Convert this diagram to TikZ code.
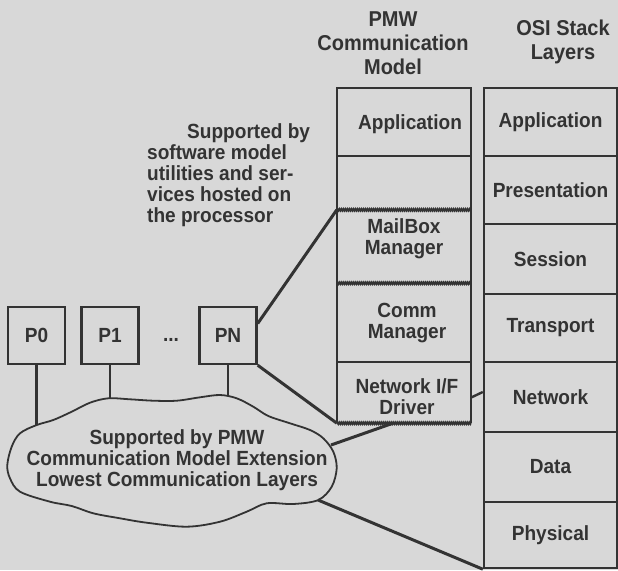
\documentclass[tikz,border=0pt]{standalone}
\usepackage{fontspec}
\setmainfont{Liberation Sans}[FakeStretch=0.93]
\usetikzlibrary{decorations.pathmorphing}
\definecolor{bg}{HTML}{D8D8D8}
\definecolor{ink}{HTML}{333333}
\tikzset{
  lbl/.style={font=\fontsize{20.5}{21}\selectfont\bfseries, text=ink, align=center, inner sep=0pt},
  hdr/.style={font=\fontsize{21.5}{24}\selectfont\bfseries, text=ink, align=center, inner sep=0pt},
  pbox/.style={draw=ink, line width=2.4pt, minimum width=57pt, minimum height=57pt, lbl},
  osirow/.style={draw=ink, line width=2.4pt, minimum width=133pt, lbl},
  pmwrow/.style={draw=none, minimum width=134pt, inner sep=0pt},
  conn/.style={draw=ink, line width=3pt},
  vline/.style={draw=ink, line width=2.4pt},
  wavy/.style={draw=ink, line width=1.8pt, decorate, decoration={zigzag, segment length=2pt, amplitude=0.9pt}},
  cloudline/.style={draw=ink, line width=1.8pt}
}
\begin{document}
\begin{tikzpicture}[x=1pt,y=-1pt]
\useasboundingbox (0,0) rectangle (618,570);
\fill[bg] (0,0) rectangle (618,570);

% headers
\node[hdr] (hpmw) at (393,43) {PMW\\Communication\\Model};
\node[hdr] (hosi) at (563,42) {OSI Stack\\Layers};

% PMW column rows (structure)
\node[pmwrow, minimum height=68pt] (pmwApp) at (404,122) {};
\node[pmwrow, minimum height=54pt] (pmwBlank) at (404,183) {};
\node[pmwrow, minimum height=73pt] (pmwMail) at (404,246.5) {};
\node[pmwrow, minimum height=79pt] (pmwComm) at (404,322.5) {};
\node[pmwrow, minimum height=61pt] (pmwNet) at (404,392.5) {};
\draw[vline] (pmwNet.south west) -- (pmwApp.north west) -- (pmwApp.north east) -- (pmwNet.south east);
\draw[vline] (pmwApp.south west) -- (pmwApp.south east);
\draw[vline] (pmwComm.south west) -- (pmwComm.south east);
\draw[wavy] (pmwMail.north west) -- (pmwMail.north east);
\draw[wavy] (pmwMail.south west) -- (pmwMail.south east);
\draw[wavy] (pmwNet.south west) -- (pmwNet.south east);

% PMW labels
\node[lbl] (tApp) at (410,124) {Application};
\node[lbl] (tMail) at (404,239) {MailBox\\Manager};
\node[lbl] (tComm) at (407,323) {Comm\\Manager};
\node[lbl] (tNet) at (407,397) {Network I/F\\Driver};

% OSI stack
\node[osirow, minimum height=68pt] (osiApp) at (550.5,122) {Application};
\node[osirow, minimum height=68pt] (osiPres) at (550.5,190) {Presentation};
\node[osirow, minimum height=70pt] (osiSess) at (550.5,259) {Session};
\node[osirow, minimum height=68pt] (osiTrans) at (550.5,328) {Transport};
\node[osirow, minimum height=70pt] (osiNet) at (550.5,397) {Network};
\node[osirow, minimum height=70pt] (osiData) at (550.5,467) {Data};
\node[osirow, minimum height=66pt] (osiPhys) at (550.5,535) {Physical};

% processors
\node[pbox] (p0) at (36.5,335.5) {P0};
\node[pbox] (p1) at (110,335.5) {P1};
\node[lbl, anchor=base] (dots) at (171,341) {...};
\node[pbox] (pn) at (228,335.5) {PN};

% software note
\node[lbl, align=left, anchor=west] (note) at (147,175) {\hspace*{40pt}Supported by\\software model\\utilities and ser-\\vices hosted on\\the processor};

% cloud
\draw[cloudline] plot[smooth cycle, tension=0.55] coordinates {
 (36.7,425) (20,433.3) (11.7,446.7) (7.3,465) (10,478.3) (20,491.7) (50,501.7)
 (71.7,506) (93.3,513.3) (120,518.3) (146.7,522.7) (186.7,526.7) (220,521.7)
 (246.7,511.7) (266.7,503.3) (293.3,504) (318.3,500) (331.7,486.7) (336.7,468.3)
 (333.3,451.7) (323.3,438.3) (310,430) (290,423.3) (268.3,416) (253.3,406.7)
 (236.7,398.3) (220,395) (200,397.3) (176.7,400.7) (153.3,400.7) (130,399.3)
 (108.3,398.3) (90,402.7) (71.7,411.7) (53.3,420)};
\node[lbl] (cloud) at (177,460) {Supported by PMW\\Communication Model Extension\\Lowest Communication Layers};
\coordinate (cP0) at (36.5,425);
\coordinate (cP1) at (110,399);
\coordinate (cPN) at (228,396);
\coordinate (cNet) at (331,445);
\coordinate (cPhy) at (318,500);

% connectors
\draw[vline] (p0.south) -- (cP0);
\draw[vline] (p1.south) -- (cP1);
\draw[vline] (pn.south) -- (cPN);
\draw[conn] (pmwMail.north west) -- ([yshift=12pt]pn.east);
\draw[conn] (pn.south east) -- (pmwNet.south west);
\draw[conn] (cNet) -- ([xshift=-11pt]pmwNet.south);
\draw[conn] (cPhy) -- (osiPhys.south west);
\draw[vline] ([yshift=-5pt]pmwNet.east) -- ([yshift=5pt]osiNet.west);
\end{tikzpicture}
\end{document}
